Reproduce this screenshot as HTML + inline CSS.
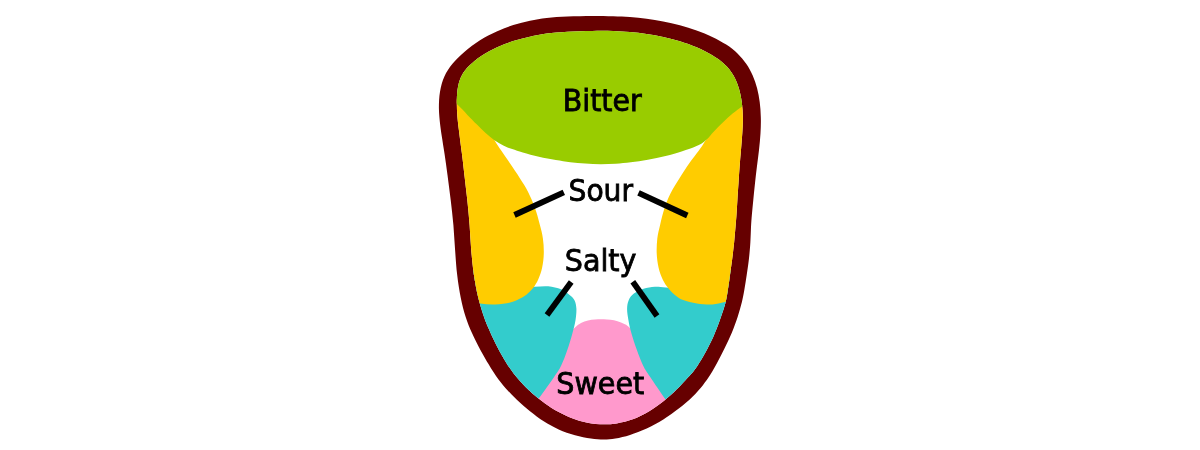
<!DOCTYPE html>
<html><head><meta charset="utf-8"><title>Tongue taste map</title>
<style>
html,body{margin:0;padding:0;background:#fff;}
body{width:1200px;height:450px;overflow:hidden;}
svg{display:block;filter:blur(.45px);}
text{font-family:"DejaVu Sans Condensed","DejaVu Sans","Liberation Sans",sans-serif;font-stretch:condensed;font-size:31px;fill:#000;stroke:#000;stroke-width:.8px;}
</style></head><body>
<svg width="1200" height="450" viewBox="0 0 1200 450">
<defs><clipPath id="in"><path d="M592.4,30.9C584.7,31.0 575.0,31.3 567.4,31.8C559.7,32.3 552.8,32.8 546.6,33.6C540.4,34.5 535.5,35.4 529.9,36.7C524.4,37.9 518.7,39.3 513.2,41.1C507.6,43.0 501.9,45.0 496.6,47.5C491.3,50.0 485.8,53.0 481.2,56.0C476.7,59.0 472.6,62.4 469.4,65.6C466.2,68.8 463.8,71.8 461.9,75.2C460.1,78.6 458.9,82.0 458.1,86.2C457.2,90.5 456.9,95.4 456.8,100.4C456.7,105.5 457.0,111.2 457.4,116.7C457.8,122.2 458.6,127.4 459.3,133.3C460.0,139.2 460.8,145.1 461.7,152.1C462.6,159.0 463.5,167.0 464.4,175.0C465.3,183.0 466.4,191.7 467.3,200.0C468.2,208.3 468.9,216.7 469.6,225.0C470.2,233.3 470.5,241.7 471.2,250.0C471.9,258.3 472.8,267.2 473.9,275.0C475.1,282.8 476.6,290.6 478.1,297.1C479.6,303.5 481.2,308.5 482.9,313.7C484.6,318.9 486.4,323.4 488.5,328.3C490.6,333.2 492.9,338.2 495.4,343.3C497.9,348.4 500.7,353.7 503.8,358.7C506.8,363.8 510.2,369.1 513.8,373.8C517.4,378.4 521.4,382.8 525.5,386.9C529.5,391.0 533.6,394.7 537.9,398.1C542.2,401.6 546.5,404.8 551.2,407.7C556.0,410.7 561.3,413.5 566.7,415.9C572.0,418.2 577.8,420.3 583.3,421.7C588.9,423.1 594.4,423.9 600.0,424.2C605.6,424.5 611.2,424.2 616.7,423.4C622.1,422.5 627.5,421.3 632.8,419.3C638.2,417.3 643.6,414.6 648.8,411.5C654.0,408.4 659.5,404.4 664.1,400.8C668.7,397.1 673.0,393.0 676.5,389.6C680.0,386.2 682.8,382.9 685.2,380.4C687.5,377.9 688.9,376.7 690.7,374.6C692.5,372.5 693.8,371.0 696.0,367.9C698.1,364.9 700.8,360.7 703.3,356.3C705.9,351.8 708.8,346.4 711.2,341.3C713.7,336.1 716.0,330.4 717.9,325.4C719.8,320.4 721.5,315.4 722.9,311.2C724.3,307.1 725.2,304.0 726.0,300.4C726.9,296.8 727.3,293.8 727.9,289.6C728.6,285.4 729.3,280.2 730.0,275.0C730.7,269.8 731.6,263.9 732.3,258.3C733.0,252.8 733.6,246.9 734.2,241.7C734.7,236.5 735.1,231.6 735.5,227.1C735.9,222.6 736.2,219.1 736.5,214.6C736.8,210.1 737.1,205.2 737.4,200.0C737.7,194.8 738.1,188.9 738.5,183.3C738.8,177.8 739.2,172.2 739.6,166.7C740.0,161.1 740.5,155.6 741.0,150.0C741.4,144.4 742.0,138.7 742.3,133.3C742.6,127.9 743.0,122.6 742.9,117.5C742.8,112.4 742.5,107.7 741.9,102.9C741.2,98.1 740.4,93.3 739.0,88.7C737.6,84.1 736.0,79.5 733.5,75.4C731.1,71.3 728.1,67.6 724.5,64.2C720.9,60.8 716.6,57.8 711.9,55.0C707.3,52.2 701.9,49.6 696.6,47.3C691.3,45.0 685.5,43.0 679.9,41.2C674.4,39.5 668.7,38.2 663.2,37.0C657.6,35.8 652.1,34.8 646.6,34.0C641.1,33.1 635.5,32.5 629.9,32.0C624.4,31.5 619.4,31.1 613.2,30.9C606.9,30.8 600.0,30.7 592.4,30.9Z"/></clipPath></defs>
<path d="M592.4,16.0C584.8,16.1 575.1,16.2 567.5,16.5C559.9,16.8 552.9,17.2 546.7,17.9C540.4,18.6 535.6,19.5 530.0,20.7C524.4,21.9 518.9,23.3 513.3,25.1C507.8,26.9 502.2,28.9 496.7,31.4C491.1,33.9 485.4,36.8 480.0,40.2C474.6,43.6 469.2,47.8 464.6,51.7C460.0,55.6 455.9,59.6 452.5,63.8C449.1,67.9 446.5,71.8 444.4,76.5C442.3,81.1 440.9,86.4 440.0,91.7C439.1,97.0 438.9,102.8 438.9,108.3C439.0,113.9 439.6,119.8 440.2,125.0C440.8,130.2 441.6,134.7 442.3,139.6C443.0,144.5 443.7,148.3 444.6,154.2C445.5,160.1 446.5,167.4 447.5,175.0C448.5,182.6 449.7,191.7 450.7,200.0C451.7,208.3 452.6,216.7 453.4,225.0C454.1,233.3 454.4,241.7 455.1,250.0C455.7,258.3 456.2,267.0 457.2,275.0C458.1,283.0 459.4,291.0 460.8,297.9C462.2,304.9 463.7,310.8 465.6,316.7C467.5,322.6 469.6,327.8 472.1,333.3C474.6,338.9 477.7,344.8 480.4,350.0C483.2,355.2 486.1,360.2 488.8,364.6C491.4,369.0 493.5,372.4 496.2,376.2C499.0,380.1 501.9,383.9 505.4,387.9C508.9,391.9 513.0,396.1 517.1,400.0C521.2,403.9 525.6,407.7 530.0,411.3C534.4,414.8 538.9,418.3 543.7,421.3C548.5,424.3 553.5,427.1 558.7,429.4C563.9,431.7 569.6,433.7 575.0,435.2C580.4,436.7 586.1,437.8 590.9,438.5C595.6,439.2 599.7,439.5 603.8,439.5C607.8,439.5 611.0,439.2 615.4,438.5C619.8,437.8 624.8,436.7 630.0,435.0C635.2,433.3 641.1,431.2 646.7,428.6C652.2,425.9 657.9,422.7 663.3,419.4C668.7,416.0 674.3,412.1 679.1,408.3C684.0,404.5 688.6,400.5 692.5,396.7C696.4,392.9 699.7,389.1 702.7,385.4C705.7,381.7 708.0,378.4 710.4,374.6C712.8,370.8 714.9,366.9 717.3,362.5C719.7,358.1 722.2,353.2 724.6,348.3C727.0,343.4 729.5,338.2 731.7,332.9C733.9,327.6 736.0,321.8 737.7,316.7C739.4,311.5 740.8,306.6 741.9,302.1C743.0,297.6 743.6,294.1 744.4,289.6C745.2,285.1 745.9,280.2 746.7,275.0C747.5,269.8 748.4,263.9 749.0,258.3C749.6,252.8 750.1,246.9 750.4,241.7C750.7,236.5 750.8,231.6 751.0,227.1C751.3,222.6 751.5,219.1 751.9,214.6C752.3,210.1 752.8,205.2 753.3,200.0C753.8,194.8 754.4,188.9 755.0,183.3C755.6,177.8 756.2,172.2 756.9,166.7C757.6,161.1 758.4,155.6 759.0,150.0C759.6,144.4 760.2,138.8 760.5,133.3C760.8,127.8 761.0,122.3 760.8,117.1C760.7,111.9 760.3,106.9 759.7,102.1C759.1,97.3 758.2,92.8 757.1,88.3C755.9,83.9 754.5,79.5 752.7,75.4C750.9,71.3 748.8,67.4 746.2,63.7C743.7,60.1 740.8,56.7 737.5,53.5C734.2,50.3 730.4,47.4 726.2,44.6C722.0,41.8 717.3,39.3 712.3,36.9C707.4,34.5 702.0,32.4 696.6,30.4C691.2,28.5 685.5,26.8 679.9,25.3C674.4,23.8 668.7,22.6 663.2,21.5C657.6,20.4 652.1,19.4 646.6,18.7C641.1,17.9 635.5,17.4 629.9,17.0C624.4,16.6 619.4,16.4 613.2,16.2C606.9,16.1 600.0,16.0 592.4,16.0Z" fill="#660000"/>
<g clip-path="url(#in)">
<rect x="400" y="0" width="400" height="450" fill="#fff"/>
<path d="M520.0,400.0C523.3,395.8 534.0,383.3 540.0,375.0C546.0,366.7 551.7,356.5 556.0,350.0C560.3,343.5 562.8,339.8 566.0,336.0C569.2,332.2 572.5,329.7 575.0,327.5C577.5,325.3 578.8,324.2 581.0,323.0C583.2,321.8 585.7,321.1 588.0,320.5C590.3,319.9 592.8,319.7 595.0,319.5C597.2,319.3 599.0,319.2 601.0,319.2C603.0,319.2 604.8,319.2 607.0,319.4C609.2,319.6 611.7,319.8 614.0,320.3C616.3,320.8 618.7,321.6 621.0,322.6C623.3,323.6 625.2,324.1 628.0,326.3C630.8,328.5 634.7,332.1 638.0,336.0C641.3,339.9 643.7,343.5 648.0,350.0C652.3,356.5 658.0,366.7 664.0,375.0C670.0,383.3 680.7,395.8 684.0,400.0L700,450L500,450Z" fill="#ff99cc"/>
<path d="M500.0,288.0C503.2,288.0 513.6,288.1 519.4,287.8C525.2,287.6 530.0,287.0 534.8,286.7C539.6,286.5 543.9,285.9 548.3,286.3C552.7,286.7 557.5,287.9 561.1,289.3C564.6,290.8 567.4,293.0 569.6,294.9C571.9,296.7 573.5,298.1 574.6,300.4C575.7,302.7 576.2,305.4 576.4,308.7C576.5,312.0 576.2,316.0 575.5,320.2C574.8,324.4 573.7,328.7 572.3,333.7C570.9,338.7 569.2,344.7 567.3,350.0C565.5,355.3 563.3,361.2 561.1,365.7C558.9,370.2 557.8,371.5 554.1,376.9C550.4,382.3 543.5,391.9 539.1,398.0C534.8,404.0 529.9,410.5 528.0,413.0L440,430L440,270L500,270Z" fill="#33cccc"/>
<path d="M700.0,288.0C697.0,288.0 687.8,288.0 682.1,287.9C676.4,287.8 670.4,287.6 665.8,287.4C661.3,287.2 658.5,286.5 654.8,286.7C651.1,286.9 647.0,287.5 643.5,288.7C640.0,289.8 636.4,291.6 633.9,293.5C631.4,295.4 629.8,297.7 628.7,300.2C627.6,302.7 627.1,305.4 627.1,308.7C627.0,312.0 627.7,316.0 628.4,320.0C629.1,324.0 629.8,327.5 631.2,332.5C632.6,337.5 634.8,344.3 636.8,349.8C638.8,355.3 640.9,361.2 643.2,365.7C645.4,370.2 646.5,371.5 650.2,377.0C653.8,382.5 660.7,392.5 665.0,398.7C669.3,404.8 674.2,411.4 676.0,414.0L770,430L770,270L700,270Z" fill="#33cccc"/>
<path d="M484.0,118.0C485.0,120.1 488.0,126.7 489.8,130.5C491.6,134.4 492.9,137.5 494.8,140.8C496.8,144.2 498.7,146.9 501.2,150.6C503.8,154.4 507.0,159.0 510.1,163.6C513.2,168.1 516.8,173.3 519.7,178.1C522.7,182.8 525.6,187.1 528.1,191.9C530.6,196.8 532.8,201.8 534.7,207.2C536.7,212.6 538.4,219.0 539.7,224.2C541.1,229.5 542.3,233.7 542.9,238.6C543.6,243.4 543.9,248.4 543.8,253.3C543.7,258.2 543.1,263.4 542.1,267.8C541.2,272.2 539.7,276.1 538.2,279.5C536.7,282.9 535.0,285.5 533.1,288.1C531.1,290.6 528.8,292.8 526.4,294.7C524.0,296.5 521.3,298.0 518.6,299.3C515.9,300.6 514.1,301.6 510.2,302.4C506.3,303.3 500.3,304.3 495.3,304.5C490.2,304.7 485.0,304.3 480.0,303.5C475.0,302.8 467.5,300.6 465.0,300.0L430,300L430,80Z" fill="#ffcc00"/>
<path d="M718.0,118.0C716.7,120.2 712.6,127.5 710.4,131.4C708.2,135.3 706.7,138.5 704.7,141.7C702.8,144.9 701.3,147.2 698.7,150.8C696.1,154.4 692.4,159.0 689.1,163.6C685.9,168.1 682.6,173.3 679.5,178.3C676.4,183.3 673.1,188.3 670.6,193.3C668.0,198.3 666.2,203.4 664.4,208.6C662.7,213.8 661.4,219.5 660.2,224.5C659.0,229.5 657.9,233.8 657.3,238.6C656.8,243.4 656.5,248.4 656.7,253.3C656.9,258.2 657.6,263.4 658.6,267.8C659.6,272.2 661.1,276.1 662.7,279.6C664.4,283.1 666.4,286.1 668.7,288.8C670.9,291.5 673.8,294.2 676.2,296.0C678.6,297.9 679.7,298.9 683.2,300.1C686.7,301.4 692.1,302.8 696.9,303.5C701.8,304.3 707.8,304.7 712.4,304.5C717.1,304.2 720.2,303.3 724.8,302.1C729.4,300.8 737.5,297.8 740.0,297.0L775,297L775,80Z" fill="#ffcc00"/>
<path d="M430.0,80.0C432.2,81.9 438.8,87.4 443.2,91.4C447.6,95.3 452.4,99.7 456.4,103.6C460.5,107.5 464.1,111.4 467.4,114.9C470.8,118.3 473.7,121.3 476.7,124.3C479.7,127.3 482.6,130.3 485.6,133.0C488.5,135.6 491.5,138.2 494.4,140.3C497.4,142.4 500.3,144.0 503.3,145.4C506.3,146.9 508.9,147.9 512.2,149.1C515.4,150.3 518.4,151.3 522.8,152.6C527.3,153.9 533.4,155.6 538.9,156.8C544.4,158.1 550.6,159.2 555.8,160.1C561.0,161.0 565.4,161.6 570.3,162.2C575.2,162.7 580.1,163.3 585.2,163.6C590.3,164.0 595.7,164.2 600.8,164.2C605.9,164.2 610.8,164.0 615.8,163.7C620.8,163.4 625.4,163.0 630.8,162.3C636.1,161.6 642.0,160.8 647.8,159.7C653.6,158.7 659.8,157.4 665.6,156.0C671.3,154.5 677.4,152.7 682.3,151.2C687.1,149.7 691.3,148.2 694.4,147.0C697.6,145.7 699.3,145.1 701.3,143.8C703.4,142.5 704.8,141.3 706.9,139.3C709.0,137.2 711.3,134.2 713.9,131.4C716.6,128.6 719.6,125.4 722.8,122.4C725.9,119.4 729.5,116.2 732.9,113.3C736.4,110.5 739.7,108.1 743.6,105.2C747.4,102.3 751.8,99.1 756.2,95.9C760.6,92.7 767.7,87.7 770.0,86.0L770,0L430,0Z" fill="#99cc00"/>
</g>
<g stroke="#000" stroke-width="5.8" fill="none">
<line x1="514.5" y1="215" x2="563.8" y2="192.4"/>
<line x1="638.5" y1="192.8" x2="687.3" y2="215.5"/>
<line x1="571.2" y1="282" x2="547" y2="315"/>
<line x1="632.8" y1="281.8" x2="657" y2="316"/>
</g>
<text x="562.8" y="110.7" textLength="78.8" lengthAdjust="spacingAndGlyphs">Bitter</text>
<text x="568.6" y="201.3" textLength="64.4" lengthAdjust="spacingAndGlyphs">Sour</text>
<text x="564.8" y="270.8" textLength="71.6" lengthAdjust="spacingAndGlyphs">Salty</text>
<text x="556.3" y="394" textLength="88" lengthAdjust="spacingAndGlyphs">Sweet</text>
</svg>
</body></html>
